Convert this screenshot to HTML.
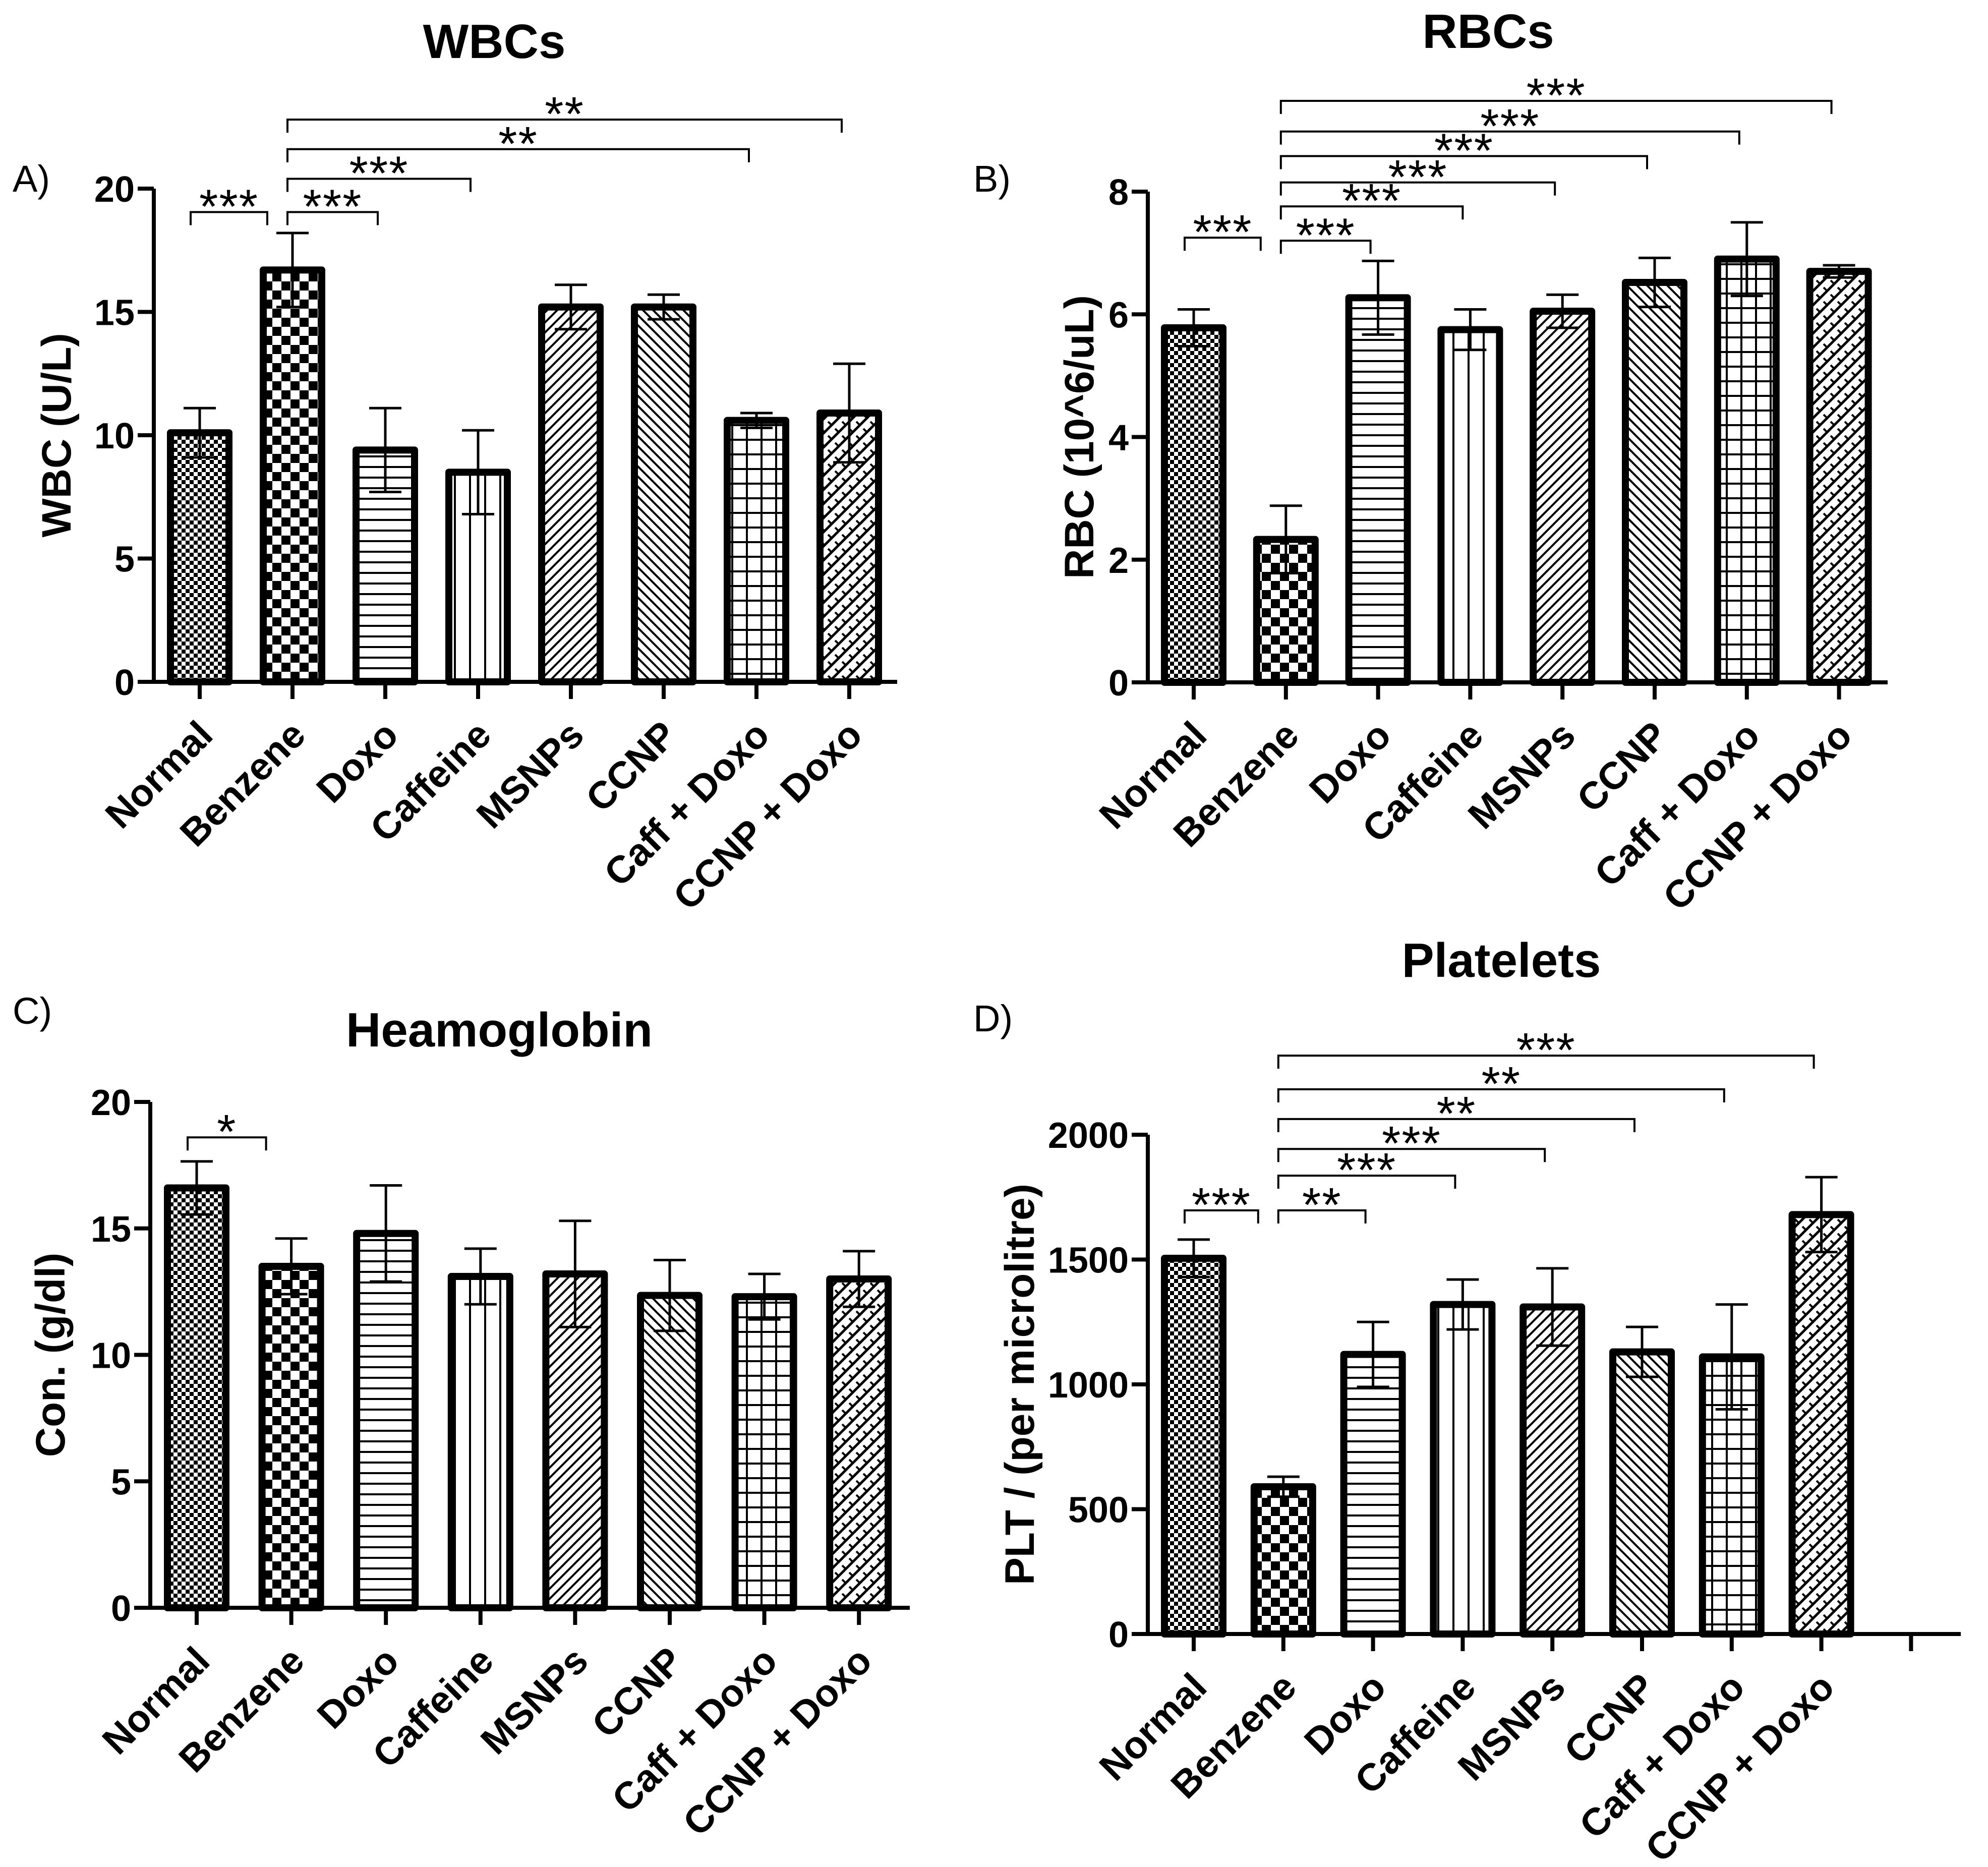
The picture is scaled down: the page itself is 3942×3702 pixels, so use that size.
<!DOCTYPE html>
<html><head><meta charset="utf-8">
<style>
html,body{margin:0;padding:0;background:#fff;}
svg{display:block;}
text{font-family:"Liberation Sans",Arial,sans-serif;fill:#000;}
</style></head>
<body>
<svg id="fig" width="3942" height="3702" viewBox="0 0 3942 3702" xmlns="http://www.w3.org/2000/svg">
<defs>
<pattern id="p0" patternUnits="userSpaceOnUse" width="16" height="16"><rect width="16" height="16" fill="#fff"/><rect width="8" height="8" fill="#000"/><rect x="8" y="8" width="8" height="8" fill="#000"/></pattern>
<pattern id="p1" patternUnits="userSpaceOnUse" width="36" height="36"><rect width="36" height="36" fill="#fff"/><rect width="18" height="18" fill="#000"/><rect x="18" y="18" width="18" height="18" fill="#000"/></pattern>
<pattern id="p2" patternUnits="userSpaceOnUse" width="20" height="21"><rect width="20" height="21" fill="#fff"/><rect y="0" width="20" height="4" fill="#000"/></pattern>
<pattern id="p3" patternUnits="userSpaceOnUse" width="30" height="20"><rect width="30" height="20" fill="#fff"/><rect x="0" width="4" height="20" fill="#000"/></pattern>
<pattern id="p4" patternUnits="userSpaceOnUse" width="20" height="20"><rect width="20" height="20" fill="#fff"/><path d="M-5,5 L5,-5 M0,20 L20,0 M15,25 L25,15" stroke="#000" stroke-width="4"/></pattern>
<pattern id="p5" patternUnits="userSpaceOnUse" width="20" height="20"><rect width="20" height="20" fill="#fff"/><path d="M-5,15 L5,25 M0,0 L20,20 M15,-5 L25,5" stroke="#000" stroke-width="4"/></pattern>
<pattern id="p6" patternUnits="userSpaceOnUse" width="29" height="29"><rect width="29" height="29" fill="#fff"/><rect width="29" height="4" fill="#000"/><rect width="4" height="29" fill="#000"/></pattern>
<pattern id="p7" patternUnits="userSpaceOnUse" width="28" height="28"><rect width="28" height="28" fill="#fff"/><path d="M0,28 L28,0 M-7,7 L7,-7 M21,35 L35,21" stroke="#000" stroke-width="5"/><path d="M4,10 L12,18 M18,24 L24,30 M18,-4 L26,4" stroke="#000" stroke-width="4"/></pattern>
</defs>
</svg>
<script>
// ---------- data ----------
const categories = ["Normal","Benzene","Doxo","Caffeine","MSNPs","CCNP","Caff + Doxo","CCNP + Doxo"];

const wbcValues = [10.1, 16.7, 9.4, 8.5, 15.2, 15.2, 10.6, 10.9];
const wbcErrors = [1.0, 1.5, 1.7, 1.7, 0.9, 0.5, 0.3, 2.0];
const wbcTicks = [0, 5, 10, 15, 20];
const wbcSigPairs = [[0,1],[1,2],[1,3],[1,6],[1,7]];
const wbcSigLevels = [19.05, 19.05, 20.4, 21.6, 22.8];
const wbcSigLabels = ["***","***","***","**","**"];

const rbcValues = [5.78, 2.33, 6.27, 5.75, 6.05, 6.52, 6.9, 6.7];
const rbcErrors = [0.3, 0.55, 0.6, 0.33, 0.27, 0.4, 0.6, 0.1];
const rbcTicks = [0, 2, 4, 6, 8];
const rbcSigPairs = [[0,1],[1,2],[1,3],[1,4],[1,5],[1,6],[1,7]];
const rbcSigLevels = [7.25, 7.2, 7.76, 8.15, 8.58, 8.98, 9.48];
const rbcSigLabels = ["***","***","***","***","***","***","***"];

const hbValues = [16.6, 13.5, 14.8, 13.1, 13.2, 12.35, 12.3, 13.0];
const hbErrors = [1.05, 1.1, 1.9, 1.1, 2.1, 1.4, 0.9, 1.1];
const hbTicks = [0, 5, 10, 15, 20];
const hbSigPairs = [[0,1]];
const hbSigLevels = [18.6];
const hbSigLabels = ["*"];

const pltValues = [1505, 590, 1120, 1320, 1310, 1130, 1110, 1680];
const pltErrors = [75, 40, 130, 100, 155, 100, 210, 150];
const pltTicks = [0, 500, 1000, 1500, 2000];
const pltSigPairs = [[0,1],[1,2],[1,3],[1,4],[1,5],[1,6],[1,7]];
const pltSigLevels = [1697, 1697, 1836, 1943, 2063, 2182, 2317];
const pltSigLabels = ["***","**","***","***","**","**","***"];

// ---------- drawing ----------
const NS = "http://www.w3.org/2000/svg";
const svg = document.getElementById('fig');
function mk(tag, attrs, parent, txt){
  const e = document.createElementNS(NS, tag);
  for (const k in attrs) e.setAttribute(k, attrs[k]);
  if (txt !== undefined) e.textContent = txt;
  (parent || svg).appendChild(e);
  return e;
}

function panel(cfg){
  const g = mk('g', {});
  
  
  const yScale = v => cfg.y0 + (cfg.yTop - cfg.y0) * (v - cfg.min) / (cfg.max - cfg.min);
  const xScale = i => cfg.x0 + cfg.step * i;
  const vals = cfg.values, errs = cfg.errors;

  const lab = mk('text', {x: cfg.letterX, y: cfg.letterY, 'font-size': 74}, g, cfg.letter);
  
  
  const t = mk('text', {x: cfg.titleX, y: cfg.titleY, 'font-size': 96, 'font-weight': 'bold', 'text-anchor': 'middle'}, g, cfg.title);
  
  
  const yt = mk('text', {x: 0, y: 0, 'font-size': 82, 'font-weight': 'bold', 'text-anchor': 'middle',
    transform: `translate(${cfg.yTitleX},${(cfg.y0 + cfg.yTop) / 2}) rotate(-90)`}, g, cfg.yTitle);
  
  

  vals.forEach((v, i) => {
    const cx = xScale(i), w = 116;
    const top = yScale(v);
    const r = mk('rect', {x: cx - w / 2, y: top, width: w, height: cfg.y0 - top,
      fill: `url(#p${i})`, stroke: '#000', 'stroke-width': 14, 'stroke-linejoin': 'round'}, g);
    
    
    const lo = yScale(v - errs[i]), hi = yScale(v + errs[i]);
    const eb = mk('path', {d: `M${cx},${lo} L${cx},${hi} M${cx - 32},${hi} L${cx + 32},${hi} M${cx - 32},${lo} L${cx + 32},${lo}`,
      stroke: '#000', 'stroke-width': 5, fill: 'none'}, g);
    
    
  });

  const axX = cfg.yAxisX;
  const ax = mk('path', {d: `M${axX},${cfg.yTop} L${axX},${cfg.y0} L${cfg.axisEnd},${cfg.y0}`,
    stroke: '#000', 'stroke-width': 8, fill: 'none'}, g);
  
  
  cfg.ticks.forEach(tv => {
    const y = yScale(tv);
    mk('line', {x1: axX - 32, x2: axX, y1: y, y2: y, stroke: '#000', 'stroke-width': 8}, g);
    const tl = mk('text', {x: axX - 38, y: y + 26, 'font-size': 72, 'font-weight': 'bold', 'text-anchor': 'end'}, g, String(tv));
    
    
  });
  const nT = cfg.extraTick ? categories.length + 1 : categories.length;
  for (let i = 0; i < nT; i++) {
    const cx = xScale(i);
    mk('line', {x1: cx, x2: cx, y1: cfg.y0, y2: cfg.y0 + 34, stroke: '#000', 'stroke-width': 8}, g);
  }
  categories.forEach((c, i) => {
    const cx = xScale(i);
    const xl = mk('text', {x: 0, y: 0, 'font-size': 76, 'font-weight': 'bold', 'text-anchor': 'end',
      transform: `translate(${cx + 30},${cfg.y0 + 110}) rotate(-45)`}, g, c);
    
    
  });

  cfg.sigPairs.forEach((p, k) => {
    const a = p[0], b = p[1];
    const xa = xScale(a) + (a === 0 ? -18 : -10);
    const xb = xScale(b) + (a === 0 ? -50 : -15);
    const y = yScale(cfg.sigLevels[k]);
    const br = mk('path', {d: `M${xa},${y + 26} L${xa},${y} L${xb},${y} L${xb},${y + 26}`,
      stroke: '#000', 'stroke-width': 4, fill: 'none'}, g);
    
    
    const st = mk('text', {x: (xa + xb) / 2, y: y + 22, 'font-size': 96, 'letter-spacing': 2, 'text-anchor': 'middle'}, g, cfg.sigLabels[k]);
    
    
  });
}

panel({name: 'wbc-chart', letter: 'A)', letterX: 25, letterY: 380, title: 'WBCs', titleX: 980, titleY: 115,
  yTitle: 'WBC (U/L)', yTitleX: 140, values: wbcValues, errors: wbcErrors, ticks: wbcTicks,
  min: 0, max: 20, y0: 1352, yTop: 374, yAxisX: 305, x0: 396, step: 184, axisEnd: 1779,
  sigPairs: wbcSigPairs, sigLevels: wbcSigLevels, sigLabels: wbcSigLabels});

panel({name: 'rbc-chart', letter: 'B)', letterX: 1930, letterY: 380, title: 'RBCs', titleX: 2951, titleY: 95,
  yTitle: 'RBC (10^6/uL)', yTitleX: 2168, values: rbcValues, errors: rbcErrors, ticks: rbcTicks,
  min: 0, max: 8, y0: 1353, yTop: 380, yAxisX: 2276, x0: 2367, step: 182.8, axisEnd: 3743,
  sigPairs: rbcSigPairs, sigLevels: rbcSigLevels, sigLabels: rbcSigLabels});

panel({name: 'haemoglobin-chart', letter: 'C)', letterX: 25, letterY: 2030, title: 'Heamoglobin', titleX: 990, titleY: 2075,
  yTitle: 'Con. (g/dl)', yTitleX: 128, values: hbValues, errors: hbErrors, ticks: hbTicks,
  min: 0, max: 20, y0: 3188, yTop: 2185, yAxisX: 298, x0: 390, step: 187.6, axisEnd: 1804,
  sigPairs: hbSigPairs, sigLevels: hbSigLevels, sigLabels: hbSigLabels});

panel({name: 'platelets-chart', letter: 'D)', letterX: 1930, letterY: 2045, title: 'Platelets', titleX: 2977, titleY: 1937,
  yTitle: 'PLT / (per microlitre)', yTitleX: 2050, values: pltValues, errors: pltErrors, ticks: pltTicks,
  min: 0, max: 2000, y0: 3240, yTop: 2250, yAxisX: 2276, x0: 2367, step: 177.8, axisEnd: 3888, extraTick: true,
  sigPairs: pltSigPairs, sigLevels: pltSigLevels, sigLabels: pltSigLabels});
</script>
</body></html>
